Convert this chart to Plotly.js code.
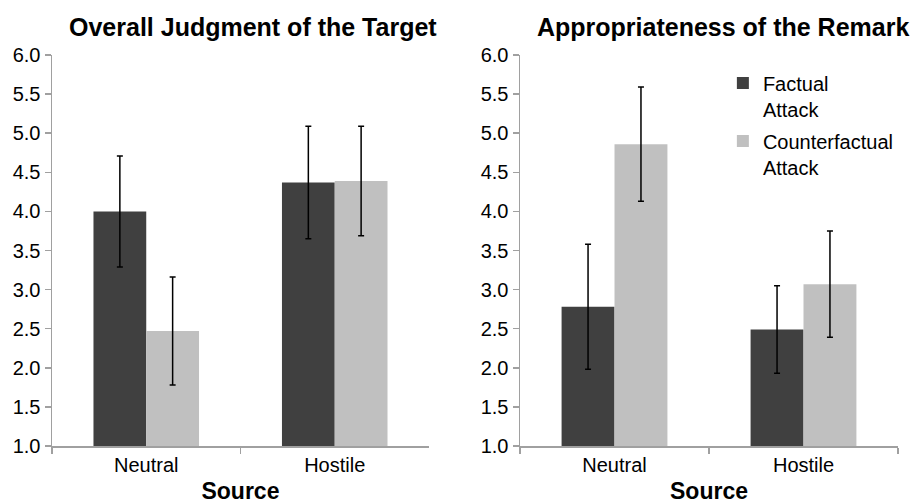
<!DOCTYPE html>
<html>
<head>
<meta charset="utf-8">
<script src="https://cdn.plot.ly/plotly-3.0.1.min.js"></script>
<style>html,body{margin:0;padding:0;background:#fff;}#chart{width:920px;height:504px;}</style>
</head>
<body>
<div id="chart"></div>
<script>
// Data
const categories = ["Neutral", "Hostile"];
const seriesNames = ["Factual<br>Attack", "Counterfactual<br>Attack"];
const panelTitles = ["Overall Judgment of the Target", "Appropriateness of the Remark"];
// Panel 1: Overall Judgment of the Target
const judgmentFactual = [4.00, 4.37];
const judgmentFactualErr = [0.71, 0.72];
const judgmentCounter = [2.47, 4.39];
const judgmentCounterErr = [0.69, 0.70];
// Panel 2: Appropriateness of the Remark
const remarkFactual = [2.78, 2.49];
const remarkFactualErr = [0.80, 0.56];
const remarkCounter = [4.86, 3.07];
const remarkCounterErr = [0.73, 0.68];
const yTicks = [1.0,1.5,2.0,2.5,3.0,3.5,4.0,4.5,5.0,5.5,6.0];

const darkColor = "#404040";
const lightColor = "#c0c0c0";
const font = "Liberation Sans, Arial, sans-serif";

function barTrace(y, err, name, color, xa, ya, showleg) {
  return {
    type: "bar", x: categories, y: y, name: name,
    xaxis: xa, yaxis: ya, showlegend: showleg, legendgroup: name,
    marker: {color: color, line: {width: 0}},
    error_y: {type: "data", array: err, visible: true, color: "#000", thickness: 1.5, width: 3}
  };
}

const data = [
  barTrace(judgmentFactual, judgmentFactualErr, seriesNames[0], darkColor, "x", "y", false),
  barTrace(judgmentCounter, judgmentCounterErr, seriesNames[1], lightColor, "x", "y", false),
  barTrace(remarkFactual, remarkFactualErr, seriesNames[0], darkColor, "x2", "y2", true),
  barTrace(remarkCounter, remarkCounterErr, seriesNames[1], lightColor, "x2", "y2", true)
];

function xAxis(domain, anchor) {
  return {
    domain: domain, anchor: anchor, type: "category",
    showline: true, linecolor: "#a0a0a0", linewidth: 1.5,
    ticks: "outside", tickson: "boundaries", ticklen: 6, tickcolor: "#a0a0a0", tickwidth: 1.5,
    showgrid: false, zeroline: false, automargin: false,
    tickfont: {family: font, size: 20, color: "#000"},
    title: {text: "<b>Source</b>", font: {family: font, size: 23, color: "#000"}, standoff: 13}
  };
}
function yAxis(anchor) {
  return {
    anchor: anchor, range: [1, 6], tickvals: yTicks, tickformat: ".1f",
    showline: true, linecolor: "#a0a0a0", linewidth: 1.5,
    ticks: "outside", ticklen: 6, tickcolor: "#a0a0a0", tickwidth: 1.5,
    showgrid: false, zeroline: false, automargin: false,
    tickfont: {family: font, size: 20, color: "#000"}
  };
}

const layout = {
  width: 920, height: 504,
  margin: {l: 52, r: 22, t: 55, b: 58},
  paper_bgcolor: "#fff", plot_bgcolor: "#fff",
  barmode: "group", bargap: 0.44, bargroupgap: 0,
  font: {family: font, color: "#000"},
  xaxis: xAxis([0, 0.4456], "y"),
  yaxis: yAxis("x"),
  xaxis2: xAxis([0.5532, 1], "y2"),
  yaxis2: yAxis("x2"),
  legend: {
    x: 0.793, y: 0.978, xanchor: "left", yanchor: "top",
    font: {family: font, size: 20, color: "#000"},
    bgcolor: "rgba(0,0,0,0)", tracegroupgap: 3, itemwidth: 30, valign: "top"
  },
  annotations: [
    {text: "<b>" + panelTitles[0] + "</b>", xref: "paper", yref: "paper", x: 0.238, y: 1.0, yanchor: "bottom", xanchor: "center", yshift: 12, showarrow: false, font: {family: font, size: 25, color: "#000"}},
    {text: "<b>" + panelTitles[1] + "</b>", xref: "paper", yref: "paper", x: 0.793, y: 1.0, yanchor: "bottom", xanchor: "center", yshift: 12, showarrow: false, font: {family: font, size: 25, color: "#000"}}
  ]
};

Plotly.newPlot("chart", data, layout, {displayModeBar: false, staticPlot: true});
</script>
</body>
</html>
